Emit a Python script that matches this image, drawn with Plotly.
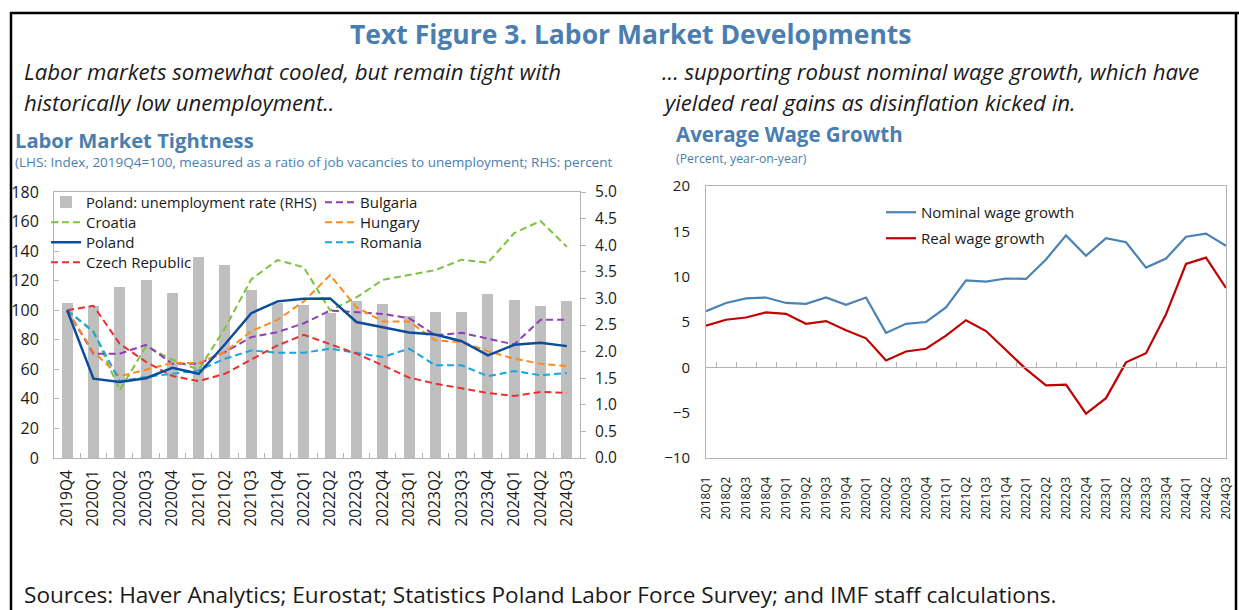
import plotly.graph_objects as go

W, H = 1239, 610


def px(x):
    return x / W


def py(y):
    return 1 - y / H


FONT = "Open Sans"
TITLE_BLUE = "#4A7EB0"
AXIS_GRAY = "#B4B4B4"
TEXT = "#1a1a1a"
DASH = "7px,4px"

# ---------------- Data: Labor Market Tightness ----------------
quarters_lmt = ["2019Q4", "2020Q1", "2020Q2", "2020Q3", "2020Q4", "2021Q1", "2021Q2",
                "2021Q3", "2021Q4", "2022Q1", "2022Q2", "2022Q3", "2022Q4", "2023Q1",
                "2023Q2", "2023Q3", "2023Q4", "2024Q1", "2024Q2", "2024Q3"]
poland_unemp = [2.92, 2.86, 3.22, 3.35, 3.11, 3.78, 3.63, 3.15, 2.92, 2.87,
                2.73, 2.95, 2.90, 2.66, 2.75, 2.75, 3.09, 2.97, 2.86, 2.95]
croatia = [100, 86, 45.8, 75.7, 66.5, 59.8, 87.8, 120.9, 134, 129,
           99.8, 108.7, 120.5, 123.8, 127.2, 134.2, 132.1, 152.2, 160.4, 142.9]
poland = [100, 53.7, 51.4, 54, 61, 57, 77, 98, 106, 107.7,
          108, 92, 88.5, 85, 83.6, 79, 69.4, 76.6, 78, 75.7]
czech = [100, 103, 77.3, 65, 55.5, 52, 57, 66.5, 76.2, 83.4,
         77, 70.6, 62.7, 54.4, 50.3, 47, 44, 42, 44.7, 44]
bulgaria = [100, 70.6, 70.6, 76.6, 63.8, 63.8, 71.7, 81.8, 85.2, 91.2,
            99.8, 98.6, 97.5, 94.6, 83, 84.7, 80.7, 76.8, 93.5, 93.5]
hungary = [100, 71.7, 55.3, 59.8, 64.3, 64.3, 71.7, 85.8, 93.5, 106,
           123.8, 102, 92.4, 92.4, 79.6, 78.4, 72.3, 67.2, 63.8, 62.2]
romania = [100, 85.2, 52, 54.8, 57, 59.3, 67.2, 72.8, 71.2, 71.2,
           74, 71.2, 68.3, 74, 62.7, 62.7, 55.3, 58.9, 56, 57.5]

# ---------------- Data: Average Wage Growth ----------------
quarters_wage = ["2018Q1", "2018Q2", "2018Q3", "2018Q4", "2019Q1", "2019Q2", "2019Q3",
                 "2019Q4", "2020Q1", "2020Q2", "2020Q3", "2020Q4", "2021Q1", "2021Q2",
                 "2021Q3", "2021Q4", "2022Q1", "2022Q2", "2022Q3", "2022Q4", "2023Q1",
                 "2023Q2", "2023Q3", "2023Q4", "2024Q1", "2024Q2", "2024Q3"]
nominal_wage = [6.2, 7.1, 7.6, 7.7, 7.1, 7.0, 7.7, 6.9, 7.7, 3.8, 4.8, 5.0, 6.6, 9.6,
                9.45, 9.8, 9.75, 11.9, 14.55, 12.3, 14.25, 13.8, 11.0, 12.0, 14.4, 14.75, 13.4]
real_wage = [4.6, 5.25, 5.5, 6.05, 5.9, 4.8, 5.1, 4.1, 3.2, 0.75, 1.75, 2.05, 3.5, 5.2,
             4.0, 1.85, -0.2, -2.0, -1.9, -5.1, -3.4, 0.55, 1.55, 5.85, 11.4, 12.1, 8.75]

fig = go.Figure()

# Left chart: bars (RHS, primary y) then lines (LHS, overlay y2)
fig.add_trace(go.Bar(x=quarters_lmt, y=poland_unemp, name="Poland: unemployment rate (RHS)",
                     marker=dict(color="#BFBFBF", line=dict(width=0)), width=0.42,
                     xaxis="x", yaxis="y", legend="legend"))


def dline(name, y, color, legend, dash=DASH, width=2):
    fig.add_trace(go.Scatter(x=quarters_lmt, y=y, name=name, mode="lines",
                             line=dict(color=color, width=width, dash=dash),
                             xaxis="x", yaxis="y2", legend=legend))


dline("Croatia", croatia, "#7DC242", "legend2")
dline("Bulgaria", bulgaria, "#8E3FB8", "legend5")
dline("Hungary", hungary, "#FF8A1C", "legend6")
dline("Romania", romania, "#18A4E0", "legend7")
dline("Czech Republic", czech, "#E8312F", "legend4")
dline("Poland", poland, "#0B4D9A", "legend3", dash="solid", width=2.5)

# Right chart
fig.add_trace(go.Scatter(x=quarters_wage, y=nominal_wage, name="Nominal wage growth", mode="lines",
                         line=dict(color="#4A82B4", width=2.2), xaxis="x2", yaxis="y3",
                         legend="legend8"))
fig.add_trace(go.Scatter(x=quarters_wage, y=real_wage, name="Real wage growth", mode="lines",
                         line=dict(color="#C00000", width=2.2), xaxis="x2", yaxis="y3",
                         legend="legend9"))
# invisible helper trace carrying the zero-line tick axis
fig.add_trace(go.Scatter(x=quarters_wage, y=nominal_wage, mode="lines", showlegend=False,
                         hoverinfo="skip", line=dict(width=0, color="rgba(0,0,0,0)"),
                         xaxis="x3", yaxis="y3"))

L_X0, L_X1, L_Y0, L_Y1 = 54, 580, 458, 192
R_X0, R_X1, R_Y0, R_Y1 = 706, 1226, 458, 186
zero_pos = py(R_Y0) + (0 - (-10)) / 30 * (py(R_Y1) - py(R_Y0))

axis_common = dict(showgrid=False, zeroline=False, showline=True, linecolor=AXIS_GRAY,
                   linewidth=1, tickcolor=AXIS_GRAY, automargin=False)


def leg(text_x, center_y, size=15):
    return dict(x=px(text_x - 41), y=py(center_y - 17), xanchor="left", yanchor="top",
                bgcolor="rgba(0,0,0,0)", borderwidth=0, font=dict(size=size, color=TEXT))


fig.update_layout(
    template="none",
    width=W, height=H,
    autosize=False,
    margin=dict(l=0, r=0, t=0, b=0, pad=0, autoexpand=False),
    paper_bgcolor="white", plot_bgcolor="rgba(0,0,0,0)",
    font=dict(family=FONT, color=TEXT),
    bargap=0,
    xaxis=dict(domain=[px(L_X0), px(L_X1)], anchor="y", type="category", mirror=True,
               ticks="inside", tickson="boundaries", ticklen=5, tickangle=-90,
               tickfont=dict(size=15.5, color=TEXT), ticklabelstandoff=5, **axis_common),
    yaxis=dict(domain=[py(L_Y0), py(L_Y1)], anchor="x", side="right", range=[0, 5],
               dtick=0.5, tickformat=".1f", ticks="outside", ticklen=5,
               tickfont=dict(size=15.5, color=TEXT), ticklabelstandoff=6, **axis_common),
    yaxis2=dict(overlaying="y", anchor="x", side="left", range=[0, 180], dtick=20,
                ticks="inside", ticklen=5, tickfont=dict(size=16, color=TEXT),
                ticklabelstandoff=11, **axis_common),
    xaxis2=dict(domain=[px(R_X0), px(R_X1)], anchor="y3", type="category", mirror=True,
                ticks="", tickangle=-90, tickfont=dict(size=11.8, color=TEXT),
                ticklabelstandoff=13, **axis_common),
    xaxis3=dict(overlaying="x2", anchor="free", position=zero_pos, type="category",
                ticks="inside", tickson="boundaries", ticklen=5, showticklabels=False,
                **axis_common),
    yaxis3=dict(domain=[py(R_Y0), py(R_Y1)], anchor="x2", range=[-10, 20], dtick=5,
                mirror=True, ticks="", tickfont=dict(size=15, color=TEXT),
                ticklabelstandoff=12, **axis_common),
    legend=leg(87, 203, 14.6),
    legend2=leg(87, 223),
    legend3=leg(87, 243),
    legend4=leg(87, 263),
    legend5=leg(361, 203),
    legend6=leg(361, 223),
    legend7=leg(361, 243),
    legend8=leg(922, 213),
    legend9=leg(922, 239),
    showlegend=True,
)

# Frame
for x0, y0, x1, y1 in [(10, 13, 1239, 13), (11, 12, 11, 640), (1236, 12, 1236, 640)]:
    fig.add_shape(type="line", xref="paper", yref="paper", x0=px(x0), y0=py(y0),
                  x1=px(x1), y1=py(y1), line=dict(color="black", width=2.5))


def note(text, x, y, size, color=TEXT, xanchor="left"):
    fig.add_annotation(text=text, x=px(x), y=py(y), xref="paper", yref="paper",
                       xanchor=xanchor, yanchor="middle", showarrow=False,
                       font=dict(size=size, color=color, family=FONT))


note("<b>Text Figure 3. Labor Market Developments</b>", 631, 34, 26.5, TITLE_BLUE, "center")
note("<i>Labor markets somewhat cooled, but remain tight with</i>", 22, 72, 22.2)
note("<i>historically low unemployment..</i>", 22, 102, 22.2)
note("<i>... supporting robust nominal wage growth, which have</i>", 660, 72, 22.2)
note("<i>yielded real gains as disinflation kicked in.</i>", 660, 102, 22.2)
note("<b>Labor Market Tightness</b>", 13, 140, 20.2, TITLE_BLUE)
note("(LHS: Index, 2019Q4=100, measured as a ratio of job vacancies to unemployment; RHS: percent",
     13, 162, 13.5, TITLE_BLUE)
note("<b>Average Wage Growth</b>", 674, 134, 20.5, TITLE_BLUE)
note("(Percent, year-on-year)", 674, 158, 12.3, TITLE_BLUE)
note("Sources: Haver Analytics; Eurostat; Statistics Poland Labor Force Survey; and IMF staff calculations.",
     22, 594, 22.6)

fig.write_html("out.html", config={"displayModeBar": False},
               post_script="document.body.style.margin='0';")
